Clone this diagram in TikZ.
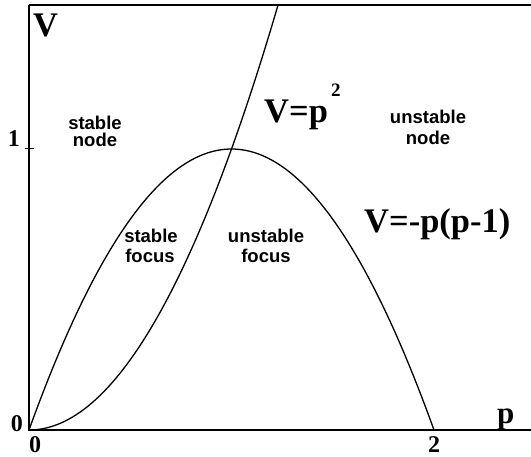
\documentclass[tikz,border=0pt]{standalone}
\usepackage{fontspec}
\setmainfont{Liberation Serif}
\newfontfamily\lsans{Liberation Sans}
\begin{document}
\begin{tikzpicture}[x=1pt,y=1pt,
  region/.style={font=\lsans\bfseries\fontsize{18.5}{18}\selectfont,inner sep=0pt,anchor=base},
  bigmath/.style={font=\bfseries\fontsize{34.5}{34}\selectfont,inner sep=0pt},
  ticklabel/.style={font=\bfseries\fontsize{24}{24}\selectfont,inner sep=0pt},
  axisline/.style={line width=1.8pt},
  curve/.style={line width=1.3pt}]
\useasboundingbox (0,0) rectangle (531,456);
% axes frame
\coordinate (O) at (29,26);
\coordinate (TL) at (29,451);
\coordinate (TR) at (531,451);
\coordinate (BR) at (531,26);
\draw[axisline] (TL) -- (O) -- (BR);
\draw[axisline] (TL) -- (TR);
% tick at V=1
\draw[line width=1pt] (25,307) -- (34,307);
% curves: p unit 202.5, V unit 281
\begin{scope}[shift={(29,26)}, x=202.5pt, y=281pt]
  \draw[curve] plot[domain=0:1.2298, samples=80, smooth] (\x,{\x*\x});
  \draw[curve] plot[domain=0:2, samples=100, smooth] (\x,{\x*(2-\x)});
\end{scope}
% axis labels
\node[bigmath, anchor=base west] (Vlab) at (33,419) {V};
\node[bigmath, anchor=base west, font=\bfseries\fontsize{31}{31}\selectfont] (plab) at (497,33) {p};
\node[ticklabel, anchor=base east] (one) at (20,309) {1};
\node[ticklabel, anchor=base east] (zeroV) at (23,24) {0};
\node[ticklabel, anchor=base] (zeroP) at (35,4) {0};
\node[ticklabel, anchor=base] (two) at (434,4) {2};
% curve labels
\node[bigmath, anchor=base west] (vp2) at (264,333) {V=p};
\node[font=\bfseries\fontsize{19}{19}\selectfont, inner sep=0pt, anchor=base west] (sq) at (331,359) {2};
\node[bigmath, anchor=base west] (vpp) at (364,223) {V=-p(p-1)};
% region labels
\node[region] (sn1) at (95,326) {stable};
\node[region] (sn2) at (95,309) {node};
\node[region] (un1) at (428,332) {unstable};
\node[region] (un2) at (428,311) {node};
\node[region] (sf1) at (151,213) {stable};
\node[region] (sf2) at (150,193) {focus};
\node[region] (uf1) at (266,213) {unstable};
\node[region] (uf2) at (266,193) {focus};
\end{tikzpicture}
\end{document}
